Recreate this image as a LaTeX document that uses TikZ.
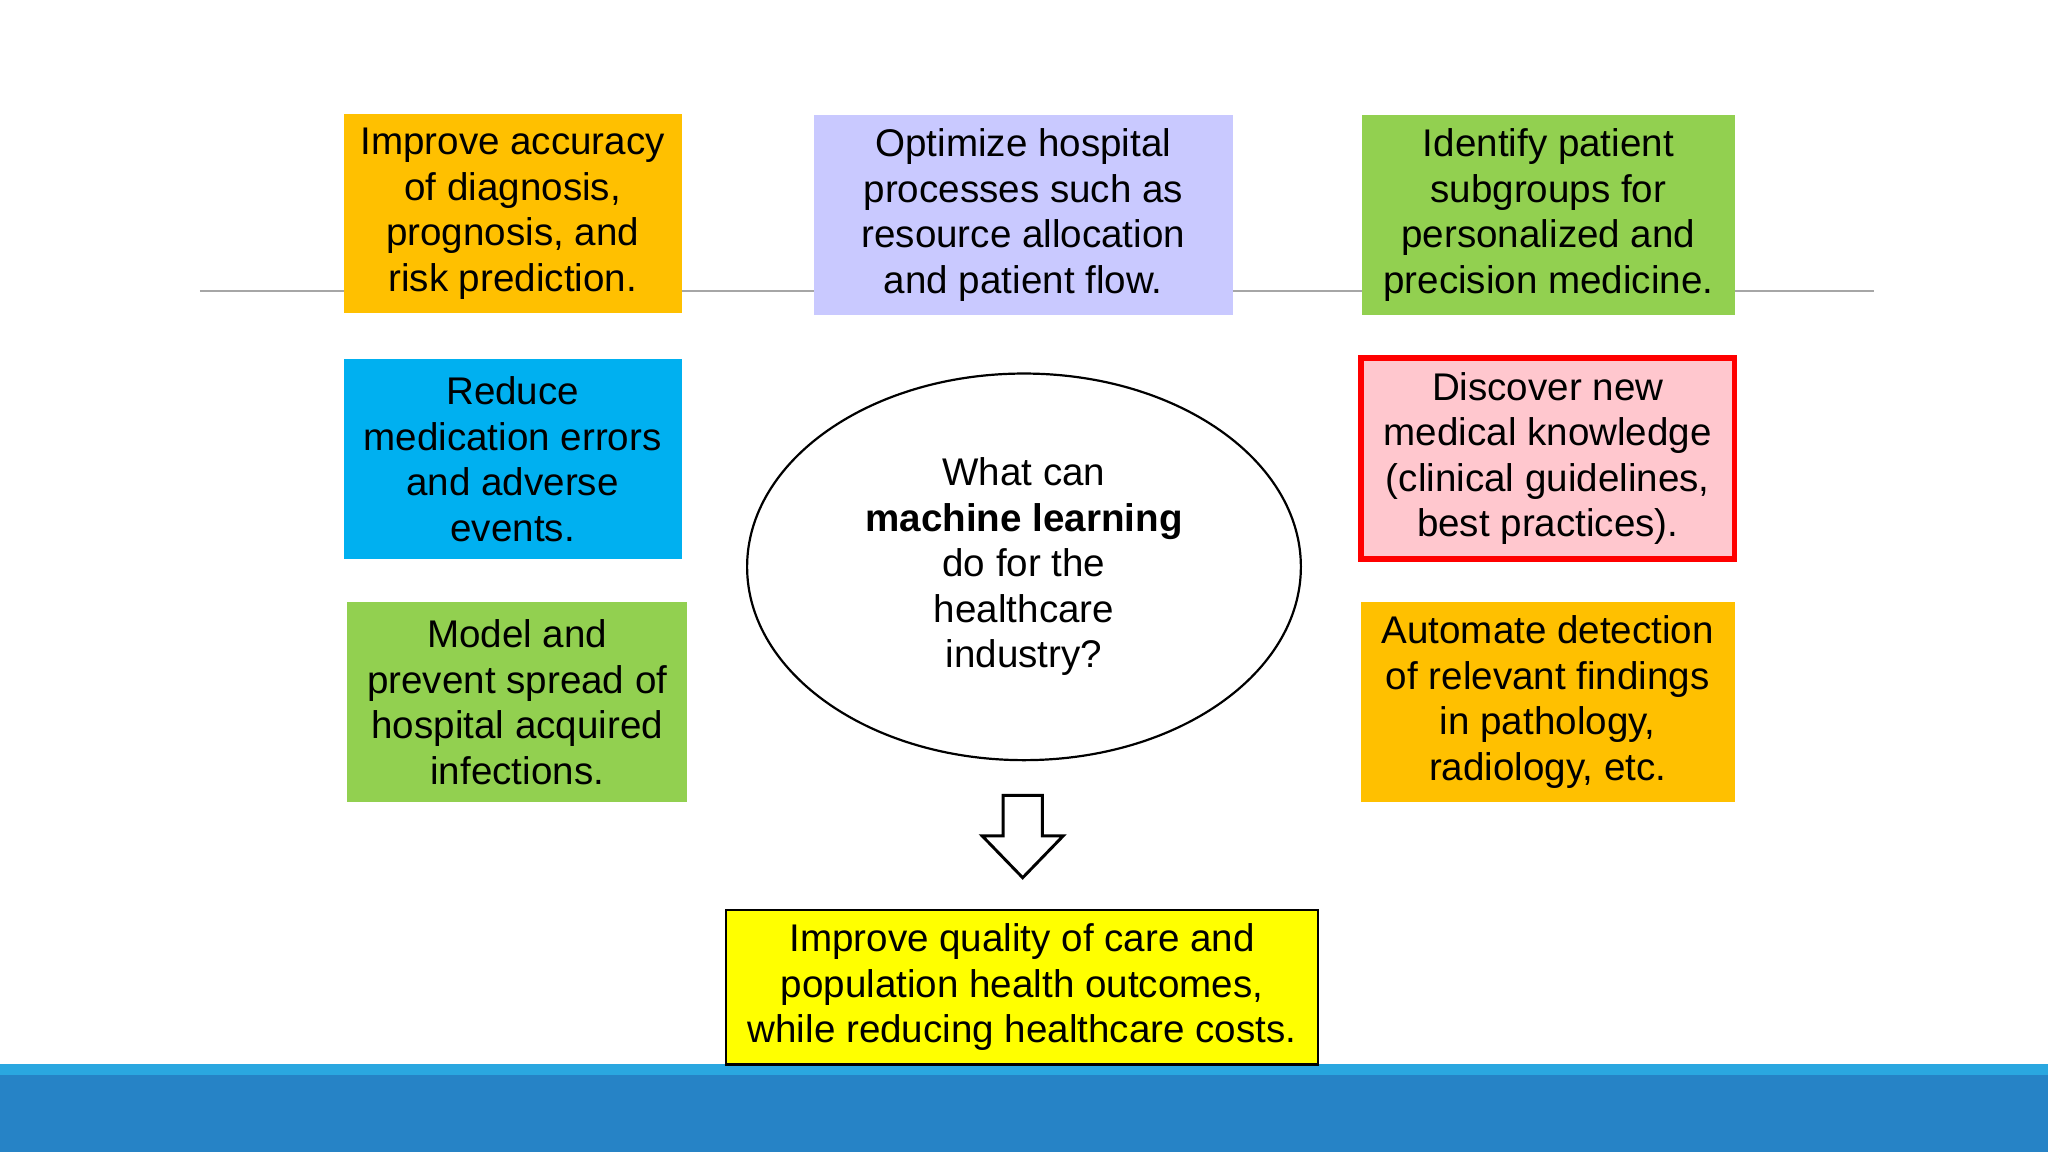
\documentclass[tikz,border=0pt]{standalone}
\usepackage{fontspec}
\setmainfont{Liberation Sans}
\usetikzlibrary{shapes.geometric}
\definecolor{cOr}{HTML}{FFC000}
\definecolor{cLav}{HTML}{C9C9FF}
\definecolor{cGr}{HTML}{92D050}
\definecolor{cBl}{HTML}{00B0F0}
\definecolor{cPk}{HTML}{FFC7CE}
\definecolor{cYe}{HTML}{FFFF00}
\definecolor{barA}{HTML}{2AA7E0}
\definecolor{barB}{HTML}{2683C6}
\tikzset{box/.style={draw=none,align=center,inner sep=0pt,font=\fontsize{10.5}{12.4}\selectfont}}
\begin{document}
\begin{tikzpicture}[x=0.0125cm,y=-0.0125cm]
\useasboundingbox (0,0) rectangle (1568,882);
\fill[white] (0,0) rectangle (1568,882);
\draw[gray!70,line width=0.6pt] (153,223) -- (1435,223);
\fill[barA] (0,815) rectangle (1568,823);
\fill[barB] (0,823) rectangle (1568,882);
\fill[cOr] (263,87) rectangle (522,240);
\node[box] (b1) at (392.5,163.5) {Improve accuracy\\of diagnosis,\\prognosis, and\\risk prediction.};
\fill[cLav] (623,88) rectangle (944,241);
\node[box] (b2) at (783.5,164.5) {Optimize hospital\\processes such as\\resource allocation\\and patient flow.};
\fill[cGr] (1043,88) rectangle (1328,241);
\node[box] (b3) at (1185.5,164.5) {Identify patient\\subgroups for\\personalized and\\precision medicine.};
\fill[cBl] (263,275) rectangle (522,428);
\node[box] (b4) at (392.5,351.5) {Reduce\\medication errors\\and adverse\\events.};
\fill[cPk,draw=red,line width=1.6pt] (1042,274) rectangle (1328,428);
\node[box] (b5) at (1185,351) {Discover new\\medical knowledge\\(clinical guidelines,\\best practices).};
\fill[cGr] (266,461) rectangle (526,614);
\node[box] (b6) at (396,537.5) {Model and\\prevent spread of\\hospital acquired\\infections.};
\fill[cOr] (1042,461) rectangle (1328,614);
\node[box] (b7) at (1185,537.5) {Automate detection\\of relevant findings\\in pathology,\\radiology, etc.};
\node[ellipse,draw,line width=0.6pt,minimum width=424*0.0125cm,minimum height=296*0.0125cm] (e) at (784,434) {};
\node[box] at (784,434) {What can\\\textbf{machine learning}\\do for the\\healthcare\\industry?};
\draw[line width=0.8pt,fill=white] (768,609) -- (798,609) -- (798,640) -- (814,640) -- (783,672) -- (752,640) -- (768,640) -- cycle;
\node[box,draw=black,fill=cYe,line width=0.6pt,minimum width=453*0.0125cm,minimum height=118*0.0125cm] (b8) at (782.5,756) {Improve quality of care and\\population health outcomes,\\while reducing healthcare costs.};
\end{tikzpicture}
\end{document}
